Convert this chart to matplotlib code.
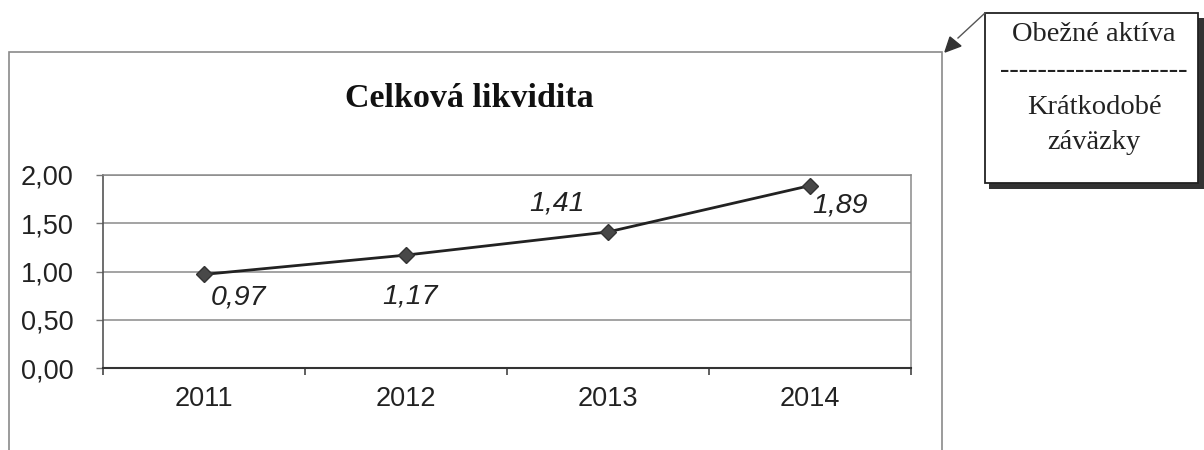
import matplotlib
matplotlib.use("Agg")
import matplotlib.pyplot as plt
from matplotlib.patches import Rectangle, Polygon
from matplotlib.lines import Line2D

years = ["2011", "2012", "2013", "2014"]
values = [0.97, 1.17, 1.41, 1.89]
value_labels = ["0,97", "1,17", "1,41", "1,89"]
yticks = [0.0, 0.5, 1.0, 1.5, 2.0]
ytick_labels = ["0,00", "0,50", "1,00", "1,50", "2,00"]
title = "Celková likvidita"
callout_lines = ["Obežné aktíva", "--------------------", "Krátkodobé", "záväzky"]

W, H = 1204, 450
fig = plt.figure(figsize=(W / 100, H / 100), dpi=100)

def fx(px):
    return px / W

def fy(py):
    return 1 - py / H

serif = ["Liberation Serif", "DejaVu Serif"]
sans = ["Liberation Sans", "DejaVu Sans"]

# outer chart frame
fig.patches.append(Rectangle((fx(9), fy(470)), fx(942) - fx(9), fy(52) - fy(470),
                             transform=fig.transFigure, fill=False, edgecolor="#8a8a8a",
                             linewidth=1.2))

ax = fig.add_axes([fx(103), fy(368), fx(911) - fx(103), fy(175) - fy(368)])
x = list(range(1, len(years) + 1))
ax.plot(x, values, color="#222222", linewidth=2.0, marker="D", markersize=8.5,
        markerfacecolor="#484848", markeredgecolor="#333333", zorder=3)

offsets = [(35, -23), (4, -41), (-51, 28), (30, -20)]
for xi, v, lab, off in zip(x, values, value_labels, offsets):
    ax.annotate(lab, (xi, v), xytext=off, textcoords="offset pixels",
                ha="center", va="center", fontsize=20.5, style="italic",
                family=sans, color="#222222", annotation_clip=False)

ax.set_xlim(0.5, len(years) + 0.5)
ax.set_ylim(0, 2.0)
ax.set_yticks(yticks)
ax.set_yticklabels(ytick_labels, family=sans, fontsize=19.5, color="#222222")
ax.set_xticks([i + 0.5 for i in range(0, len(years) + 1)])
ax.set_xticklabels([])
ax.set_xticks(x, minor=True)
ax.set_xticklabels(years, minor=True, family=sans, fontsize=19.5, color="#222222")
ax.tick_params(axis="x", which="major", length=5, direction="out", color="#444444", width=1.2)
ax.tick_params(axis="x", which="minor", length=0, pad=13)
ax.tick_params(axis="y", length=5, direction="out", color="#777777", width=1.0, pad=16)
ax.yaxis.grid(True, color="#8a8a8a", linewidth=1.1)
ax.set_axisbelow(True)
for s in ["top", "right"]:
    ax.spines[s].set_color("#8a8a8a")
    ax.spines[s].set_linewidth(1.1)
ax.spines["left"].set_color("#555555")
ax.spines["left"].set_linewidth(1.2)
ax.spines["bottom"].set_color("#333333")
ax.spines["bottom"].set_linewidth(1.5)

fig.text(fx(469), fy(107), title, ha="center", va="baseline", fontsize=24.5,
         fontweight="bold", family=serif, color="#111111")

# callout box with shadow
fig.patches.append(Rectangle((fx(989), fy(189)), fx(1210) - fx(989), fy(18) - fy(189),
                             transform=fig.transFigure, facecolor="#333333", edgecolor="none"))
fig.patches.append(Rectangle((fx(985), fy(183)), fx(1198) - fx(985), fy(13) - fy(183),
                             transform=fig.transFigure, facecolor="white", edgecolor="#222222",
                             linewidth=1.3))
fig.lines.append(Line2D([fx(985), fx(958)], [fy(13), fy(38)], transform=fig.transFigure,
                        color="#555555", linewidth=1.0))
fig.patches.append(Polygon([(fx(945), fy(52)), (fx(950), fy(37)), (fx(961), fy(46))],
                           closed=True, transform=fig.transFigure, facecolor="#333333",
                           edgecolor="#333333"))
ys = [41, 71, 114, 149]
vas = ["baseline", "center", "baseline", "baseline"]
for txt, yy, va in zip(callout_lines, ys, vas):
    fig.text(fx(1094), fy(yy), txt, ha="center", va=va, fontsize=20.5,
             family=serif, color="#222222")

fig.savefig("out.png", dpi=100)
